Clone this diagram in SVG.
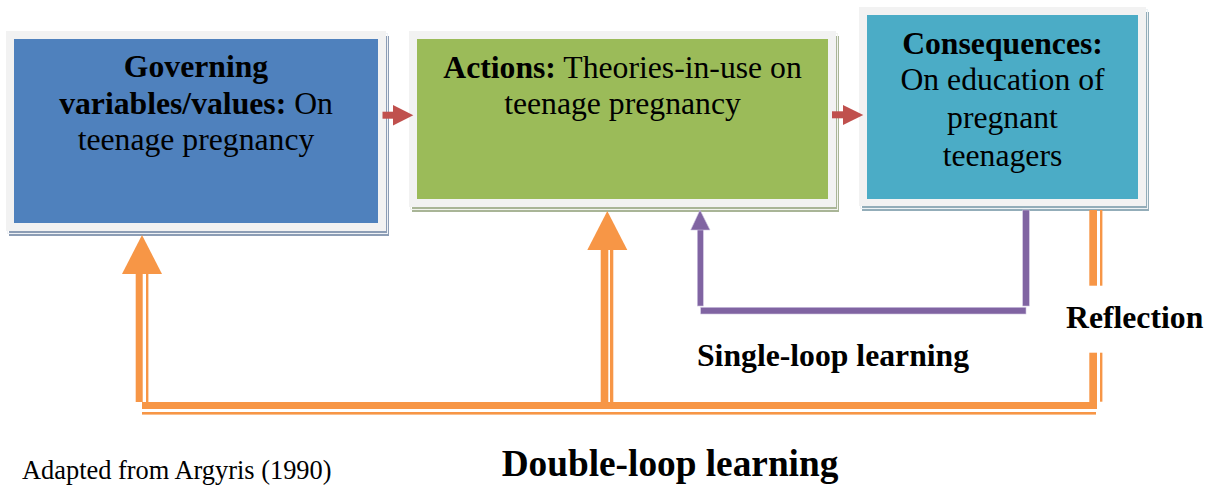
<svg xmlns="http://www.w3.org/2000/svg" width="1213" height="485" viewBox="0 0 1213 485">
<style>
text{font-family:"Liberation Serif","Times New Roman",serif;fill:#000}
.t{font-size:31.7px;text-anchor:middle}
.b{font-weight:bold}
.frame{fill:#f2f2f2}
.orange{fill:#f79646}
.purple{fill:#8064a2;stroke:#cfc5e2;stroke-width:0.6}
.red{fill:#c0504d}
</style>
<rect width="1213" height="485" fill="#fff"/>
<g id="node-governing">
<rect x="9" y="36" width="380" height="200" fill="#8c9db5"/>
<rect x="7.5" y="33.5" width="380" height="200" fill="none" stroke="#eef1f5" stroke-width="1"/>
<rect class="frame" x="6" y="31" width="380" height="200"/>
<rect x="14" y="39" width="364" height="184" fill="#4f81bd"/>
<text class="t" x="196" y="77"><tspan class="b">Governing</tspan></text>
<text class="t" x="196" y="113.5"><tspan class="b">variables/values:</tspan> On</text>
<text class="t" x="196" y="150">teenage pregnancy</text>
</g>
<g id="node-actions">
<rect x="412" y="36" width="427" height="176" fill="#a9b597"/>
<rect x="410.5" y="33.5" width="427" height="176" fill="none" stroke="#f1f3ee" stroke-width="1"/>
<rect class="frame" x="409" y="31" width="427" height="176"/>
<rect x="417" y="39" width="411" height="160" fill="#9bbb59"/>
<text class="t" x="622.5" y="78"><tspan class="b">Actions:</tspan> Theories-in-use on</text>
<text class="t" x="622.5" y="114">teenage pregnancy</text>
</g>
<g id="node-consequences">
<rect x="862" y="12" width="287" height="199" fill="#93adb9"/>
<rect x="860.5" y="9.5" width="287" height="199" fill="none" stroke="#eef3f5" stroke-width="1"/>
<rect class="frame" x="859" y="7" width="287" height="199"/>
<rect x="867" y="15" width="271" height="184" fill="#4bacc6"/>
<text class="t b" x="1002.5" y="53.5">Consequences:</text>
<text class="t" x="1002.5" y="90">On education of</text>
<text class="t" x="1002.5" y="128">pregnant</text>
<text class="t" x="1002.5" y="165.5">teenagers</text>
</g>
<g id="connectors">
<rect class="red" x="382.5" y="111.7" width="12" height="7"/>
<polygon class="red" points="393,105 413.3,115.3 393,125.6"/>
<rect class="red" x="832" y="111.3" width="12" height="7"/>
<polygon class="red" points="843,105 863.3,115 843,125"/>
<rect class="purple" x="1022.7" y="210" width="6.6" height="96"/>
<rect class="purple" x="700.7" y="307.3" width="325.3" height="6.7"/>
<rect class="purple" x="697.3" y="228" width="6" height="78"/>
<polygon class="purple" points="700,210 690.7,230 710,230"/>
<rect class="orange" x="1089.3" y="210" width="7.7" height="75.7"/>
<rect class="orange" x="1100" y="210" width="2.4" height="75.7"/>
<rect class="orange" x="1089.3" y="352.7" width="7.7" height="56.3"/>
<rect class="orange" x="1100" y="352.7" width="2.4" height="49"/>
<rect class="orange" x="142" y="402" width="955" height="7"/>
<rect class="orange" x="142" y="412" width="954" height="2.6"/>
<rect class="orange" x="135.7" y="272" width="7" height="130"/>
<rect class="orange" x="146" y="272" width="2.4" height="130"/>
<polygon class="orange" points="142,235 122,274 162,274"/>
<rect class="orange" x="600.7" y="248" width="7.6" height="158"/>
<rect class="orange" x="610" y="248" width="3.3" height="154"/>
<polygon class="orange" points="607.3,211 587.3,250 627.3,250"/>
</g>
<text class="b" x="1066" y="328" font-size="31.7">Reflection</text>
<text class="b" x="697" y="366" font-size="31.7">Single-loop learning</text>
<text class="b" x="670" y="476" font-size="37.3" text-anchor="middle">Double-loop learning</text>
<text x="22" y="479" font-size="26.4">Adapted from Argyris (1990)</text>
</svg>
